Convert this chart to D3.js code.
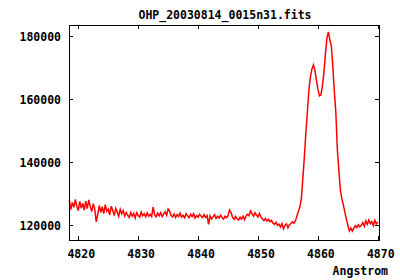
<!DOCTYPE html>
<html>
<head>
<meta charset="utf-8">
<script src="https://cdn.jsdelivr.net/npm/d3@7"></script>
<style>
  body { margin: 0; background: #fff; }
  text { font-family: "DejaVu Sans Mono", monospace; font-weight: bold; font-size: 11.5px; fill: #000; }
</style>
</head>
<body>
<script>
// spectrum sampled every 0.25 Angstrom starting at 4818.5, flux in units of 1000 counts
var lambdaStart = 4818.5;
var lambdaStep = 0.25;

var continuumLeft = [
  127.8, 124.9, 127.2, 125.6, 128.1, 126.0, 124.6, 127.5, 125.3, 126.9,
  124.7, 127.6, 125.2, 128.0, 125.9, 124.3, 126.8, 125.0, 121.0, 123.4,
  126.2, 124.0, 125.8, 123.6, 126.5, 124.4, 125.1, 123.2, 126.0, 124.6,
  123.0, 125.3, 124.1, 122.8, 125.0, 123.6, 124.6, 122.9, 124.0, 123.1,
  122.4, 124.0, 122.8, 123.7, 122.2, 123.9, 123.0, 122.5, 124.1, 122.9,
  123.6, 122.6, 123.9, 122.8, 123.4, 122.7, 125.8, 123.2, 122.6, 123.8,
  122.9, 123.9, 122.7, 123.5, 124.2, 123.1, 125.1, 124.4, 123.0, 122.6,
  123.5, 122.4, 123.3, 122.7, 123.8, 122.5, 123.1, 122.3, 123.6, 122.9,
  122.3, 123.4, 122.7, 123.6, 122.2, 123.0, 122.5, 123.4, 122.8, 122.4,
  123.3, 122.4, 123.0, 120.2, 122.9, 121.9, 122.6, 123.3, 122.1, 122.8,
  122.2, 123.1, 122.4, 121.9, 122.8, 122.3, 123.0, 124.8, 124.0, 122.5,
  121.8, 122.7, 122.0, 121.6, 122.5, 121.9, 122.8, 121.7, 122.9, 123.4,
  123.0, 124.5, 123.6, 122.8, 123.9, 123.1, 122.6, 123.7, 122.5, 121.9,
  121.4, 122.1, 121.2, 121.8, 121.0, 121.5, 120.6, 120.2, 120.9, 119.9,
  120.3, 119.4, 120.5, 118.8, 119.9, 120.4, 119.1, 120.1, 120.5, 121.0
];

// the double-peaked emission line, 4856.0 to 4866.0
var emissionLine = [
  120.6, 121.3, 122.9, 124.4, 125.8, 128.6, 135.2, 141.9, 149.5, 156.2,
  162.9, 167.0, 169.5, 170.8, 169.2, 166.0, 163.2, 161.0, 161.3, 164.1,
  168.3, 174.0, 179.4, 181.3, 178.7, 176.8, 170.2, 162.2, 155.6, 143.8,
  137.5, 131.1, 128.3, 126.4, 124.1, 121.9, 120.0, 118.1, 119.0, 118.1,
  119.0
];

var continuumRight = [
  119.8, 119.2, 120.1, 119.4, 119.9, 120.8, 119.6, 121.3, 120.2, 121.6,
  120.4, 121.1, 119.8, 121.5, 120.3, 121.0
];

var xTicks = [4820, 4830, 4840, 4850, 4860, 4870];
var yTicks = [120000, 140000, 160000, 180000];
var title = "OHP_20030814_0015n31.fits";
var xLabel = "Angstrom";

var width = 400, height = 280;
var plotLeft = 69, plotRight = 379, plotTop = 25, plotBottom = 240;
var tickLen = 4;

var flux = continuumLeft.concat(emissionLine, continuumRight);
var spectrum = flux.map(function (f, i) {
  return { lambda: lambdaStart + i * lambdaStep, counts: f * 1000 };
});

var x = d3.scaleLinear().domain([4818.45, 4870.2]).range([plotLeft, plotRight]);
var y = d3.scaleLinear().domain([115250, 183500]).range([plotBottom, plotTop]);

var svg = d3.select('body').append('svg').attr('width', width).attr('height', height);

// spectrum
var line = d3.line()
  .x(function (d) { return x(d.lambda); })
  .y(function (d) { return y(d.counts); });

svg.append('path')
  .datum(spectrum)
  .attr('d', line)
  .attr('fill', 'none')
  .attr('stroke', '#ff0000')
  .attr('stroke-width', 1.5);

// axes, ticks inward and mirrored like gnuplot
var bottomAxis = d3.axisBottom(x).tickValues(xTicks).tickSize(-tickLen).tickFormat('');
var topAxis = d3.axisTop(x).tickValues(xTicks).tickSize(-tickLen).tickFormat('');
var leftAxis = d3.axisLeft(y).tickValues(yTicks).tickSize(-tickLen).tickFormat('');
var rightAxis = d3.axisRight(y).tickValues(yTicks).tickSize(-tickLen).tickFormat('');

svg.append('g').attr('transform', 'translate(0,' + plotBottom + ')').call(bottomAxis);
svg.append('g').attr('transform', 'translate(0,' + plotTop + ')').call(topAxis);
svg.append('g').attr('transform', 'translate(' + plotLeft + ',0)').call(leftAxis);
svg.append('g').attr('transform', 'translate(' + plotRight + ',0)').call(rightAxis);
svg.selectAll('.domain').remove();
svg.selectAll('.tick line').attr('stroke', '#000').attr('shape-rendering', 'crispEdges');

svg.append('rect')
  .attr('x', plotLeft + 0.5).attr('y', plotTop + 0.5)
  .attr('width', plotRight - plotLeft).attr('height', plotBottom - plotTop)
  .attr('fill', 'none').attr('stroke', '#000')
  .attr('shape-rendering', 'crispEdges');

// tick labels
svg.selectAll('.xlab')
  .data(xTicks)
  .enter()
  .append('text')
  .attr('x', function (d) { return x(d) + 3; })
  .attr('y', 258)
  .attr('text-anchor', 'middle')
  .text(function (d) { return d; });

svg.selectAll('.ylab')
  .data(yTicks)
  .enter()
  .append('text')
  .attr('x', 61)
  .attr('y', function (d) { return y(d) + 4.7; })
  .attr('text-anchor', 'end')
  .text(function (d) { return d; });

svg.append('text')
  .attr('x', 225).attr('y', 18.5)
  .attr('text-anchor', 'middle')
  .text(title);

svg.append('text')
  .attr('x', 388).attr('y', 275)
  .attr('text-anchor', 'end')
  .text(xLabel);
</script>
</body>
</html>
